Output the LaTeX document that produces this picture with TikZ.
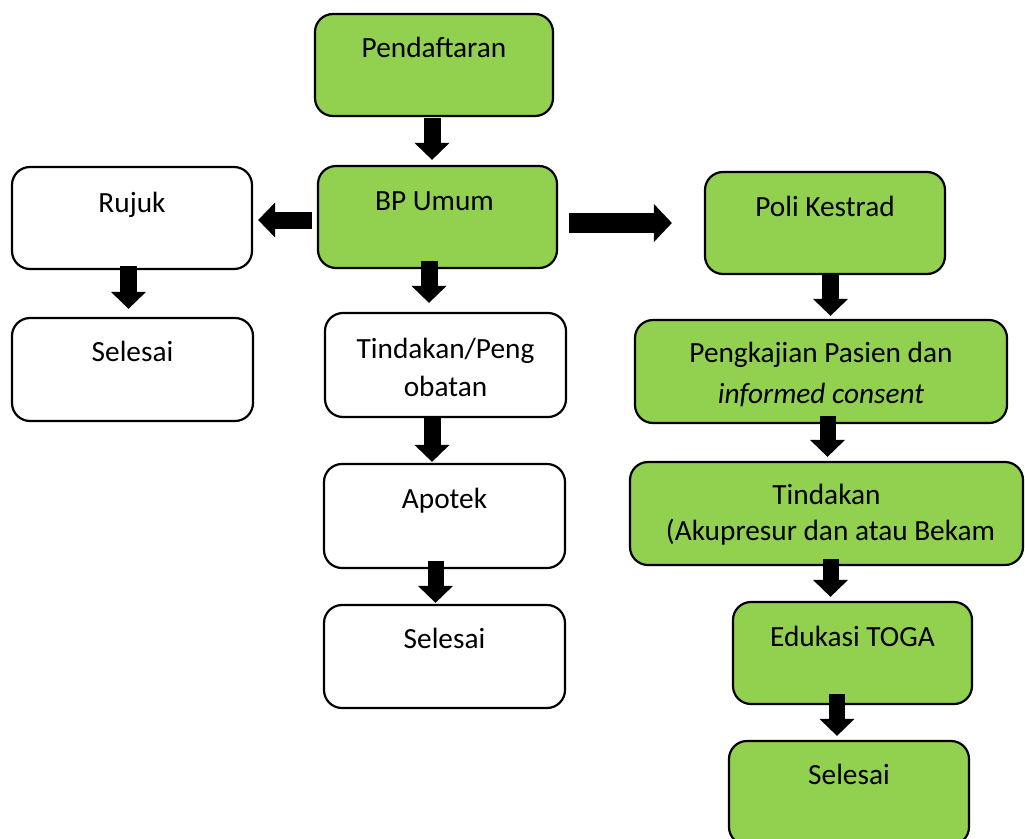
\documentclass[tikz,border=0pt]{standalone}
\usepackage{fontspec}
\setmainfont{Carlito}
\usetikzlibrary{arrows.meta,calc}
\definecolor{boxgreen}{HTML}{92D050}
\tikzset{
  box/.style={draw=black, line width=2.2pt, rounded corners=18pt, inner sep=0pt, minimum width=#1},
  gbox/.style={box=#1, fill=boxgreen},
  wbox/.style={box=#1, fill=white},
  txt/.style={anchor=base, inner sep=0pt, font=\fontsize{29.3}{35}\selectfont},
  barrow/.style={line width=17pt, -{Triangle[width=34pt,length=17pt]}},
}
\begin{document}
\begin{tikzpicture}[x=1pt,y=-1pt]
\useasboundingbox (0,0) rectangle (1025,838);
% boxes
\node[gbox=238pt, minimum height=102pt] (pend) at (434,65) {};
\node[gbox=239pt, minimum height=102pt] (bp) at (437.5,217) {};
\node[wbox=240pt, minimum height=102pt] (rujuk) at (132,218) {};
\node[wbox=241pt, minimum height=103pt] (sel1) at (132.5,369.5) {};
\node[wbox=241pt, minimum height=104pt] (tind1) at (445.5,365) {};
\node[wbox=241pt, minimum height=104pt] (apotek) at (444.5,516) {};
\node[wbox=241pt, minimum height=103pt] (sel2) at (444.5,656.5) {};
\node[gbox=240pt, minimum height=102pt] (poli) at (825,223) {};
\node[gbox=372pt, minimum height=103pt] (pengk) at (821,371.5) {};
\node[gbox=393pt, minimum height=103pt] (tind2) at (826.5,513.5) {};
\node[gbox=239pt, minimum height=102pt] (edu) at (852.5,653) {};
\node[gbox=240pt, minimum height=104pt] (sel3) at (849,793) {};
% texts
\node[txt] (tpend) at ($(pend.north)+(0,45)$) {Pendaftaran};
\node[txt] (tbp) at ($(bp.north)+(-3,46)$) {BP Umum};
\node[txt] (trujuk) at ($(rujuk.north)+(0,47)$) {Rujuk};
\node[txt] (tsel1) at ($(sel1.north)+(0,45)$) {Selesai};
\node[txt] (ttind1a) at ($(tind1.north)+(0,47)$) {Tindakan/Peng};
\node[txt] (ttind1b) at ($(tind1.north)+(0,85)$) {obatan};
\node[txt] (tapotek) at ($(apotek.north)+(0,46)$) {Apotek};
\node[txt] (tsel2) at ($(sel2.north)+(0,45)$) {Selesai};
\node[txt] (tpoli) at ($(poli.north)+(0,46)$) {Poli Kestrad};
\node[txt] (tpengka) at ($(pengk.north)+(0,44)$) {Pengkajian Pasien dan};
\node[txt] (tpengkb) at ($(pengk.north)+(0,85)$) {\itshape informed consent};
\node[txt] (ttind2a) at ($(tind2.north)+(0,44)$) {Tindakan};
\node[txt] (ttind2b) at ($(tind2.north)+(4,80)$) {(Akupresur dan atau Bekam};
\node[txt] (tedu) at ($(edu.north)+(0,46)$) {Edukasi TOGA};
\node[txt] (tsel3) at ($(sel3.north)+(0,45)$) {Selesai};
% arrows
\draw[barrow, shorten >=5pt] (pend.south) ++(-2,1) coordinate (a1) -- (a1 |- bp.north);
\draw[barrow, shorten >=5pt] (bp.west) ++(-5,3) coordinate (a2) -- (a2 -| rujuk.east);
\draw[barrow, line width=20pt, -{Triangle[width=37pt,length=18pt]}, shorten >=32pt] (bp.east) ++(11,6) coordinate (a3) -- (a3 -| poli.west);
\draw[barrow, shorten >=9pt] (bp.south) ++(-8.5,-8) coordinate (a4) -- (a4 |- tind1.north);
\draw[barrow, shorten >=8pt] (rujuk.south) ++(-3.5,-4) coordinate (a5) -- (a5 |- sel1.north);
\draw[barrow, shorten >=1pt] (tind1.south) ++(-13.5,-1) coordinate (a6) -- (a6 |- apotek.north);
\draw[barrow, line width=16pt, shorten >=1pt] (apotek.south) ++(-9,-8) coordinate (a7) -- (a7 |- sel2.north);
\draw[barrow, shorten >=3pt] (poli.south) ++(5.5,-1) coordinate (a8) -- (a8 |- pengk.north);
\draw[barrow, line width=16pt, shorten >=4pt] (pengk.south) ++(6.5,-8) coordinate (a9) -- (a9 |- tind2.north);
\draw[barrow, line width=16pt, shorten >=4pt] (tind2.south) ++(4,-7) coordinate (a10) -- (a10 |- edu.north);
\draw[barrow, line width=16pt, shorten >=4pt] (edu.south) ++(-15.5,-11) coordinate (a11) -- (a11 |- sel3.north);
\end{tikzpicture}
\end{document}
